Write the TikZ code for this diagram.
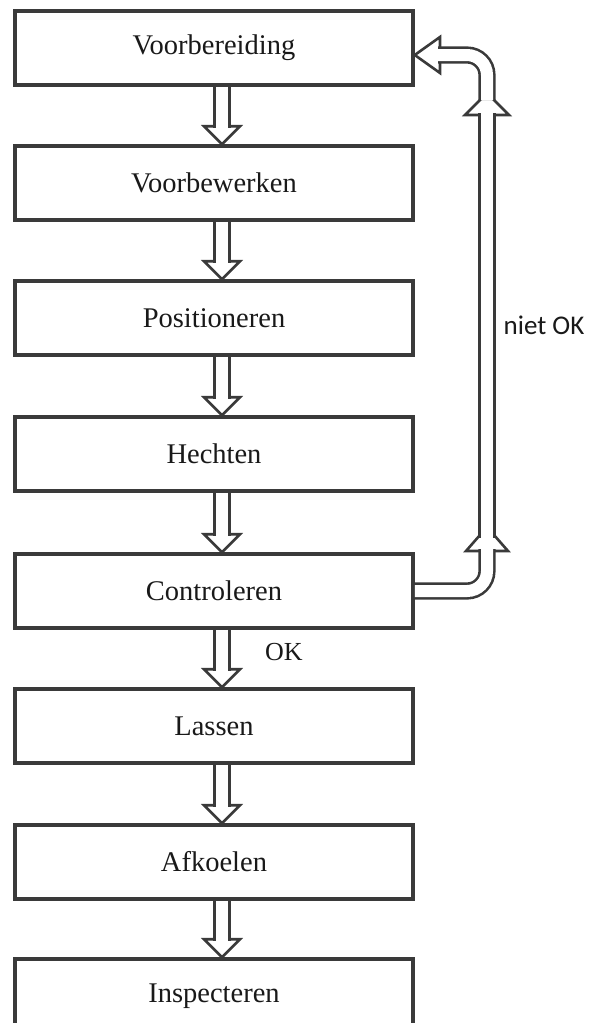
\documentclass[tikz,border=0pt]{standalone}
\usepackage{fontspec}
\setmainfont{Liberation Serif}
\newfontfamily\calib{Carlito}
\usetikzlibrary{calc}
\definecolor{dk}{HTML}{3A3A3A}
\newcommand\dnarr[2]{%
  \draw[head] let \p1=([xshift=8pt]#1.south), \p2=([xshift=8pt]#2.north) in
    (\x2-18pt,\y2+18pt) -- (\x2,\y2) -- (\x2+18pt,\y2+18pt) -- cycle;
  \draw[pipe] let \p1=([xshift=8pt]#1.south), \p2=([xshift=8pt]#2.north) in
    (\x1,\y1) -- (\x1,\y2+16pt);}
\begin{document}
\begin{tikzpicture}[x=1pt,y=-1pt,
  box/.style={draw=dk, line width=3.5pt, minimum width=398pt, minimum height=74pt,
    inner sep=0pt, font=\fontsize{28.5}{30}\selectfont, text=black!90},
  pipe/.style={draw=dk, line width=2.6pt, double=white, double distance=12pt},
  head/.style={draw=dk, line width=2.6pt, fill=white, line join=miter},
  lbl/.style={inner sep=0pt, text=black!90}]
\useasboundingbox (0,0) rectangle (589,1023);
\clip (0,0) rectangle (589,1023);
\node[box] (n1) at (214,48) {Voorbereiding};
\node[box] (n2) at (214,183) {Voorbewerken};
\node[box] (n3) at (214,318) {Positioneren};
\node[box] (n4) at (214,454) {Hechten};
\node[box] (n5) at (214,591) {Controleren};
\node[box] (n6) at (214,726) {Lassen};
\node[box] (n7) at (214,862) {Afkoelen};
\node[box] (n8) at (214,996) {Inspecteren};
\dnarr{n1}{n2}
\dnarr{n2}{n3}
\dnarr{n3}{n4}
\dnarr{n4}{n5}
\dnarr{n5}{n6}
\dnarr{n6}{n7}
\dnarr{n7}{n8}
% return path
\coordinate (lt) at (487,527);
\coordinate (lb) at (487,549);
\coordinate (ut) at (487,93);
\coordinate (ub) at (487,113);
\coordinate (us) at (487,100);
\coordinate (ls) at (487,538);
\coordinate (lh) at (438,55);
\draw[head] (466,551) -- (lt) -- (508,551) -- cycle;
\draw[head] (465,115) -- (ut) -- (509,115) -- cycle;
\draw[head] (440,37) -- ([yshift=-7pt]n1.east) -- (440,73) -- cycle;
\draw[pipe, rounded corners=20pt] (n5.east) -| (lb);
\draw[pipe] (ls) -- (ub);
\draw[pipe, rounded corners=20pt] (us) |- (lh);
\node[lbl, font=\fontsize{26}{30}\selectfont] (ok) at (284,652) {OK};
\node[lbl, font=\calib\fontsize{27}{30}\selectfont] (nok) at (544,325) {niet OK};
\end{tikzpicture}
\end{document}
